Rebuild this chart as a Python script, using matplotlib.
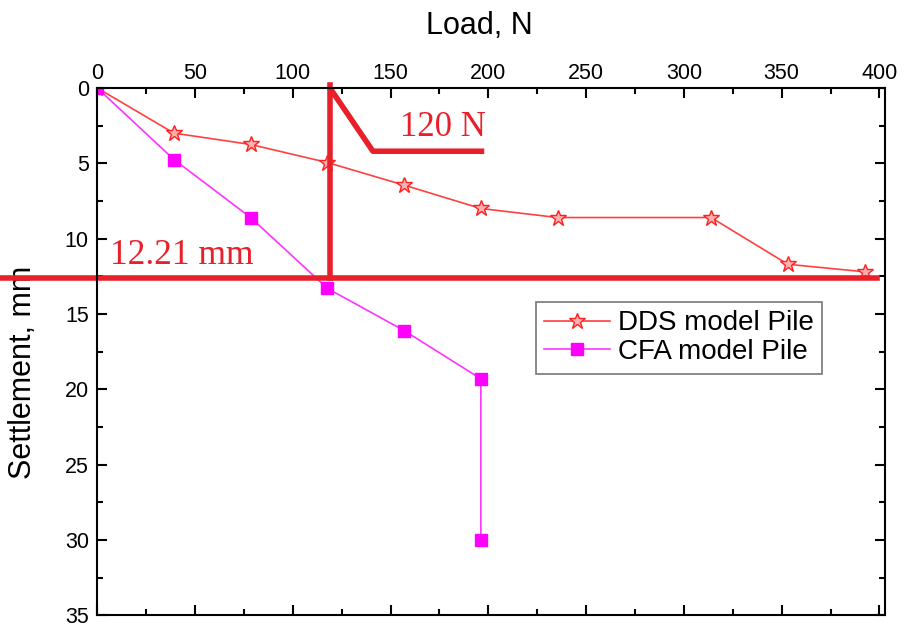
import matplotlib.pyplot as plt
from matplotlib.ticker import MultipleLocator

plt.rcParams["font.family"] = ["Liberation Sans", "DejaVu Sans"]

# load in N (4 kg steps x 9.81)
dds_load = [0, 39.24, 78.48, 117.72, 156.96, 196.2, 235.44, 313.92, 353.16, 392.4]
dds_settle = [0, 3.0, 3.75, 4.95, 6.45, 8.0, 8.6, 8.6, 11.7, 12.2]

cfa_load = [0, 39.24, 78.48, 117.72, 156.96, 196.2, 196.2]
cfa_settle = [0, 4.75, 8.6, 13.3, 16.1, 19.3, 30.0]

fig = plt.figure(figsize=(9.08, 6.28), dpi=100)
ax = fig.add_axes([0.107, 0.02, 0.868, 0.84])

ax.plot(dds_load, dds_settle, color="#ff4040", lw=1.2, marker="*", ms=12,
        mfc="#ffb0b0", mec="#ff2020", label="DDS model Pile")
ax.plot(cfa_load, cfa_settle, color="#ff33ff", lw=1.2, marker="s", ms=8,
        mfc="#ff00ff", mec="#ff00ff", label="CFA model Pile")

# annotation lines
red = "#e8202a"
ax.plot([-60, 399], [12.6, 12.6], color=red, lw=4, clip_on=False)
ax.plot([119, 119], [-0.2, 12.6], color=red, lw=4, clip_on=False)
ax.plot([119, 141, 196.5], [0, 4.2, 4.2], color=red, lw=4)
ax.text(155, 2.6, "120 N", color=red, fontsize=25, family="Liberation Serif",
        ha="left", va="center")
ax.text(6.5, 11.1, "12.21 mm", color=red, fontsize=25.5, family="Liberation Serif",
        ha="left", va="center")

ax.set_xlim(0, 403)
ax.set_ylim(35, 0)
ax.xaxis.set_major_locator(MultipleLocator(50))
ax.xaxis.set_minor_locator(MultipleLocator(25))
ax.yaxis.set_major_locator(MultipleLocator(5))
ax.yaxis.set_minor_locator(MultipleLocator(2.5))
ax.xaxis.tick_top()
ax.xaxis.set_label_position("top")
ax.tick_params(which="both", direction="in", top=True, bottom=True,
               left=True, right=True, labelsize=15.5, width=1.5)
ax.tick_params(which="major", length=7)
ax.tick_params(which="minor", length=4)
ax.tick_params(axis="x", pad=3)
ax.tick_params(axis="y", pad=6)
for s in ax.spines.values():
    s.set_linewidth(1.5)

ax.set_xlabel("Load, N", fontsize=22)
ax.xaxis.set_label_coords(0.485, 1.102)
ax.set_ylabel("Settlement, mm", fontsize=22)
ax.yaxis.set_label_coords(-0.075, 0.46)

leg = ax.legend(loc="upper left", bbox_to_anchor=(0.557, 0.594), fontsize=20,
                frameon=True, fancybox=False, edgecolor="#555555",
                handlelength=2.35, handletextpad=0.3, borderpad=0.3,
                labelspacing=0.1, borderaxespad=0)
leg.get_frame().set_linewidth(1.2)

fig.savefig("out.png", dpi=100)
